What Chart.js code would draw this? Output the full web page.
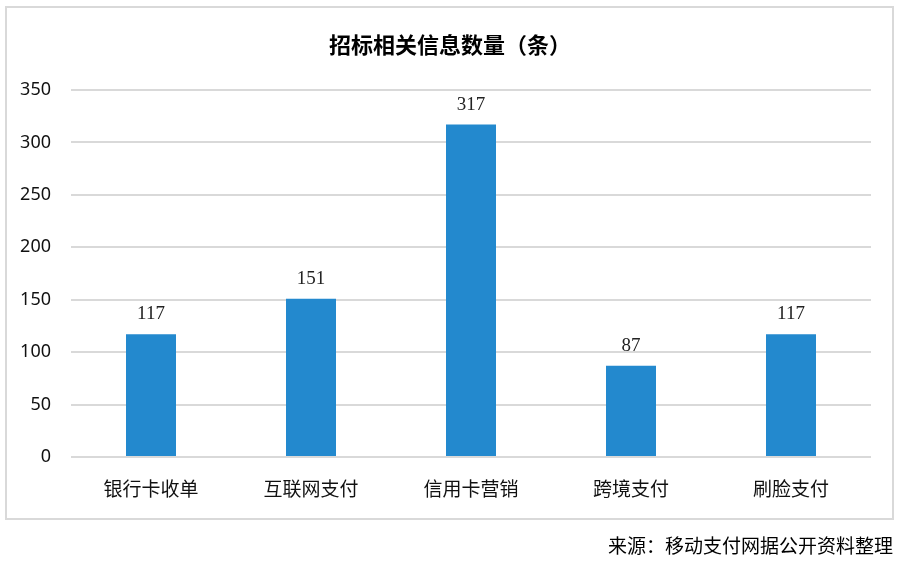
<!DOCTYPE html>
<html>
<head>
<meta charset="utf-8">
<script src="https://cdn.jsdelivr.net/npm/chart.js@4"></script>
<style>
    html, body { margin: 0; padding: 0; background: #fff; }
    #wrap { width: 901px; height: 563px; position: relative; }
</style>
</head>
<body>
<div id="wrap"><canvas id="chart" width="901" height="563"></canvas></div>
<script>
const categories = ['银行卡收单', '互联网支付', '信用卡营销', '跨境支付', '刷脸支付'];
const values = [117, 151, 317, 87, 117];
const yTicks = [0, 50, 100, 150, 200, 250, 300, 350];
const titleText = '招标相关信息数量（条）';
const sourceText = '来源：移动支付网据公开资料整理';

const cjkFont = '"Noto Sans CJK SC", "Noto Sans", sans-serif';

// 边框、标题、来源和数据标签
const decorPlugin = {
    id: 'decor',
    beforeDraw: function (chart) {
        const ctx = chart.ctx;
        ctx.save();
        ctx.fillStyle = '#ffffff';
        ctx.fillRect(0, 0, chart.width, chart.height);
        ctx.strokeStyle = '#d9d9d9';
        ctx.lineWidth = 2;
        ctx.strokeRect(6, 7, 887, 512);
        ctx.restore();
    },
    afterDraw: function (chart) {
        const ctx = chart.ctx;
        ctx.save();
        ctx.fillStyle = '#000';
        ctx.textAlign = 'center';
        ctx.textBaseline = 'middle';
        ctx.font = 'bold 22px ' + cjkFont;
        ctx.fillText(titleText, 450, 45);

        ctx.textAlign = 'right';
        ctx.font = '19px ' + cjkFont;
        ctx.fillText(sourceText, 893, 546);

        const meta = chart.getDatasetMeta(0);
        ctx.textAlign = 'center';
        ctx.textBaseline = 'alphabetic';
        ctx.font = '19px "Liberation Serif", serif';
        ctx.fillStyle = '#222';
        meta.data.forEach((bar, i) => {
            ctx.fillText(String(values[i]), bar.x, bar.y - 15);
        });
        ctx.restore();
    }
};

new Chart(document.getElementById('chart'), {
    type: 'bar',
    data: {
        labels: categories,
        datasets: [{
            data: values,
            backgroundColor: '#2389ce',
            barPercentage: 0.3125,
            categoryPercentage: 1
        }]
    },
    options: {
        responsive: false,
        animation: false,
        layout: { padding: { left: 0, right: 30, top: 90, bottom: 0 } },
        plugins: {
            legend: { display: false },
            title: { display: false },
            tooltip: { enabled: false }
        },
        scales: {
            x: {
                grid: { display: false, drawTicks: false },
                border: { display: false },
                ticks: {
                    padding: 20,
                    color: '#111',
                    font: { size: 19, family: cjkFont }
                },
                afterFit: function (axis) { axis.height = 106; }
            },
            y: {
                min: 0,
                max: 350,
                afterBuildTicks: function (axis) {
                    axis.ticks = yTicks.map(v => ({ value: v }));
                },
                grid: { color: '#d9d9d9', lineWidth: 2, drawTicks: false },
                border: { display: false },
                ticks: {
                    padding: 20,
                    color: '#111',
                    font: { size: 18, family: '"Noto Sans", sans-serif' }
                },
                afterFit: function (axis) { axis.width = 71; }
            }
        }
    },
    plugins: [decorPlugin]
});
</script>
</body>
</html>
